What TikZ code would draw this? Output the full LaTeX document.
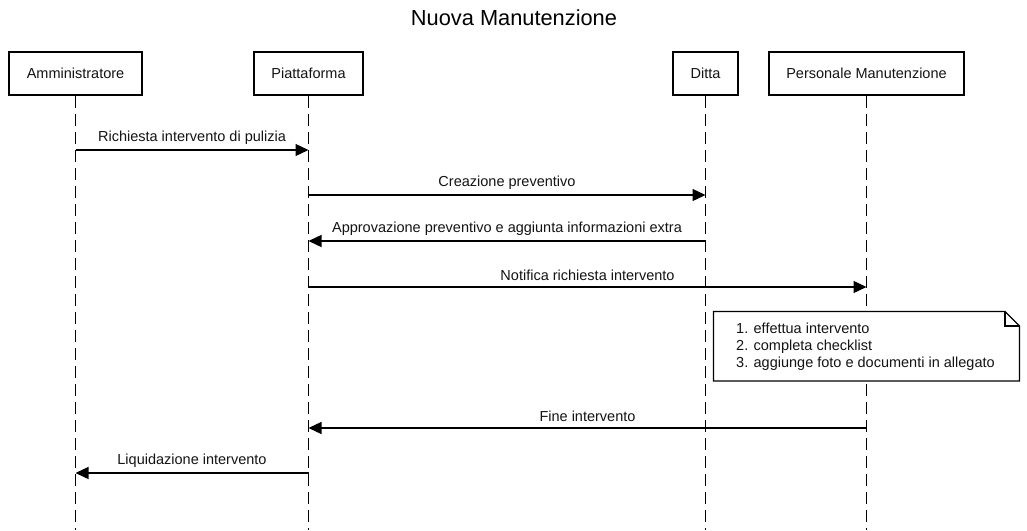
\documentclass[tikz,border=0pt]{standalone}
\usepackage{fontspec}
\setmainfont{Liberation Sans}
\usetikzlibrary{arrows.meta}
\begin{document}
\begin{tikzpicture}[x=1pt,y=-1pt,
  txt/.style={font=\fontsize{14.5}{17}\selectfont, text=black!92},
  actor/.style={draw, line width=2.4pt, minimum height=43.5pt, inner sep=0pt, txt},
  life/.style={line width=1.4pt, dash pattern=on 12pt off 6pt},
  msg/.style={line width=1.3pt, -{Triangle[length=13pt,width=12pt]}},
  lbl/.style={txt, inner sep=0pt, midway, yshift=12pt}]
\useasboundingbox[fill=white] (0,0) rectangle (1027,530);
\node[font=\fontsize{21.8}{26}\selectfont] (title) at (514,18) {Nuova Manutenzione};
\node[actor, minimum width=132.5pt] (adm) at (75.5,73.5) {Amministratore};
\node[actor, minimum width=108.5pt] (plat) at (308.5,73.5) {Piattaforma};
\node[actor, minimum width=64.5pt] (ditta) at (705.5,73.5) {Ditta};
\node[actor, minimum width=195.5pt] (pers) at (866.5,73.5) {Personale Manutenzione};
\coordinate (bot) at (0,530);
\draw[life] (adm.south) -- (adm.south |- bot);
\draw[life] (plat.south) -- (plat.south |- bot);
\draw[life] (ditta.south) -- (ditta.south |- bot);
\draw[life] (pers.south) -- (pers.south |- bot);
\coordinate (m1) at (0,150);
\coordinate (m2) at (0,195);
\coordinate (m3) at (0,241);
\coordinate (m4) at (0,287);
\coordinate (m5) at (0,428);
\coordinate (m6) at (0,473);
\draw[msg] (adm.south |- m1) -- node[lbl]{Richiesta intervento di pulizia} (plat.south |- m1);
\draw[msg] (plat.south |- m2) -- node[lbl]{Creazione preventivo} (ditta.south |- m2);
\draw[msg] (ditta.south |- m3) -- node[lbl]{Approvazione preventivo e aggiunta informazioni extra} (plat.south |- m3);
\draw[msg] (plat.south |- m4) -- node[lbl]{Notifica richiesta intervento} (pers.south |- m4);
\draw[msg] (pers.south |- m5) -- node[lbl]{Fine intervento} (plat.south |- m5);
\draw[msg] (plat.south |- m6) -- node[lbl]{Liquidazione intervento} (adm.south |- m6);
\draw[line width=1.3pt, fill=white] (713.5,311.5) -- (1005,311.5) -- (1019.5,326) -- (1019.5,381) -- (713.5,381) -- cycle;
\draw[line width=1.3pt] (1005,311.5) -- (1005,326) -- (1019.5,326);
\node[txt, align=left, anchor=west, inner sep=0pt] (notetext) at (736,347) {1. effettua intervento\\2. completa checklist\\3. aggiunge foto e documenti in allegato};
\end{tikzpicture}
\end{document}
